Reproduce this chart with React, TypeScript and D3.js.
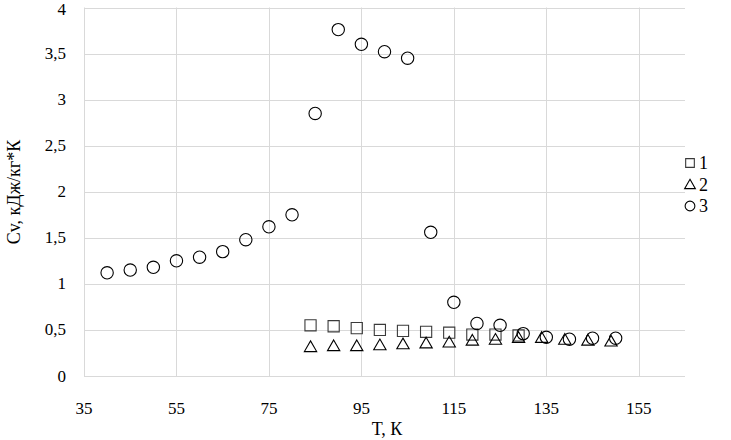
import React, { useEffect, useRef } from 'react'
import * as d3 from 'd3'

// series 1 (squares)
const t1 = [84, 89, 94, 99, 104, 109, 114, 119, 124, 129]
const cv1 = [0.55, 0.54, 0.52, 0.5, 0.49, 0.48, 0.47, 0.45, 0.45, 0.44]

// series 2 (triangles)
const t2 = [84, 89, 94, 99, 104, 109, 114, 119, 124, 129, 134, 139, 144, 149]
const cv2 = [0.32, 0.33, 0.33, 0.34, 0.35, 0.36, 0.37, 0.39, 0.4, 0.42, 0.42, 0.4, 0.39, 0.38]

// series 3 (circles)
const t3 = [40, 45, 50, 55, 60, 65, 70, 75, 80, 85, 90, 95, 100, 105, 110, 115, 120, 125, 130, 135, 140, 145, 150]
const cv3 = [1.12, 1.15, 1.18, 1.25, 1.29, 1.35, 1.48, 1.62, 1.75, 2.85, 3.76, 3.6, 3.52, 3.45, 1.56, 0.8, 0.57, 0.55, 0.46, 0.42, 0.4, 0.41, 0.41]

const xTicks = [35, 55, 75, 95, 115, 135, 155]
const yTicks = [0, 0.5, 1, 1.5, 2, 2.5, 3, 3.5, 4]
const legendLabels = ['1', '2', '3']

const width = 731
const height = 440

export default function App() {
  const ref = useRef<SVGSVGElement>(null)

  useEffect(() => {
    const svg = d3.select(ref.current)
    svg.selectAll('*').remove()

    const x = d3.scaleLinear().domain([35, 165]).range([84, 685])
    const y = d3.scaleLinear().domain([0, 4]).range([376, 7.5])

    const fmt = (v: number) => String(v).replace('.', ',')

    // grid
    svg.append('g')
      .selectAll('line')
      .data(yTicks)
      .enter()
      .append('line')
      .attr('x1', x(35)).attr('x2', x(165))
      .attr('y1', d => Math.round(y(d)) + 0.5).attr('y2', d => Math.round(y(d)) + 0.5)
      .attr('stroke', '#d9d9d9')
      .attr('stroke-width', 1)

    svg.append('g')
      .selectAll('line')
      .data(xTicks)
      .enter()
      .append('line')
      .attr('x1', d => Math.round(x(d)) + 0.5).attr('x2', d => Math.round(x(d)) + 0.5)
      .attr('y1', y(4)).attr('y2', y(0))
      .attr('stroke', '#d9d9d9')
      .attr('stroke-width', 1)

    // tick labels
    svg.append('g')
      .selectAll('text')
      .data(yTicks)
      .enter()
      .append('text')
      .attr('x', 66)
      .attr('y', d => Math.max(y(d) + 5.5, 15))
      .attr('text-anchor', 'end')
      .attr('font-size', 17)
      .text(d => fmt(d))

    svg.append('g')
      .selectAll('text')
      .data(xTicks)
      .enter()
      .append('text')
      .attr('x', d => x(d))
      .attr('y', 414)
      .attr('text-anchor', 'middle')
      .attr('font-size', 17)
      .text(d => d)

    // axis titles
    svg.append('text')
      .attr('x', 387)
      .attr('y', 435)
      .attr('text-anchor', 'middle')
      .attr('font-size', 18)
      .text('T, К')

    svg.append('text')
      .attr('transform', 'translate(20,192) rotate(-90)')
      .attr('text-anchor', 'middle')
      .attr('font-size', 18)
      .text('Cv, кДж/кг*К')

    const sq = d3.symbol().type(d3.symbolSquare).size(125)
    const tri = d3.symbol().type(d3.symbolTriangle).size(66)
    const circ = d3.symbol().type(d3.symbolCircle).size(120)

    const series = [
      { t: t1, v: cv1, path: sq, color: '#3a3a3a', dy: 0 },
      { t: t2, v: cv2, path: tri, color: '#000', dy: 1.5 },
      { t: t3, v: cv3, path: circ, color: '#000', dy: 0 },
    ]

    series.forEach(s => {
      svg.append('g')
        .selectAll('path')
        .data(s.t)
        .enter()
        .append('path')
        .attr('d', s.path() as string)
        .attr('transform', (d, i) => 'translate(' + x(d) + ',' + (y(s.v[i]) + s.dy) + ')')
        .attr('fill', 'none')
        .attr('stroke', s.color)
        .attr('stroke-width', 1.1)
    })

    // legend
    const leg = svg.append('g')
    series.forEach((s, i) => {
      const ly = 163 + i * 21.5
      leg.append('path')
        .attr('d', s.path.size(i === 1 ? 50 : 75)() as string)
        .attr('transform', 'translate(690,' + (ly + (i === 1 ? 1 : 0)) + ')')
        .attr('fill', 'none')
        .attr('stroke', s.color)
        .attr('stroke-width', 1.1)
      leg.append('text')
        .attr('x', 699)
        .attr('y', ly + 6)
        .attr('font-size', 18)
        .text(legendLabels[i])
    })
  }, [])

  return (
    <svg
      ref={ref}
      width={width}
      height={height}
      fontFamily="'Liberation Serif', 'Times New Roman', serif"
      style={{ position: 'absolute', left: 0, top: 0, background: '#fff' }}
    />
  )
}
